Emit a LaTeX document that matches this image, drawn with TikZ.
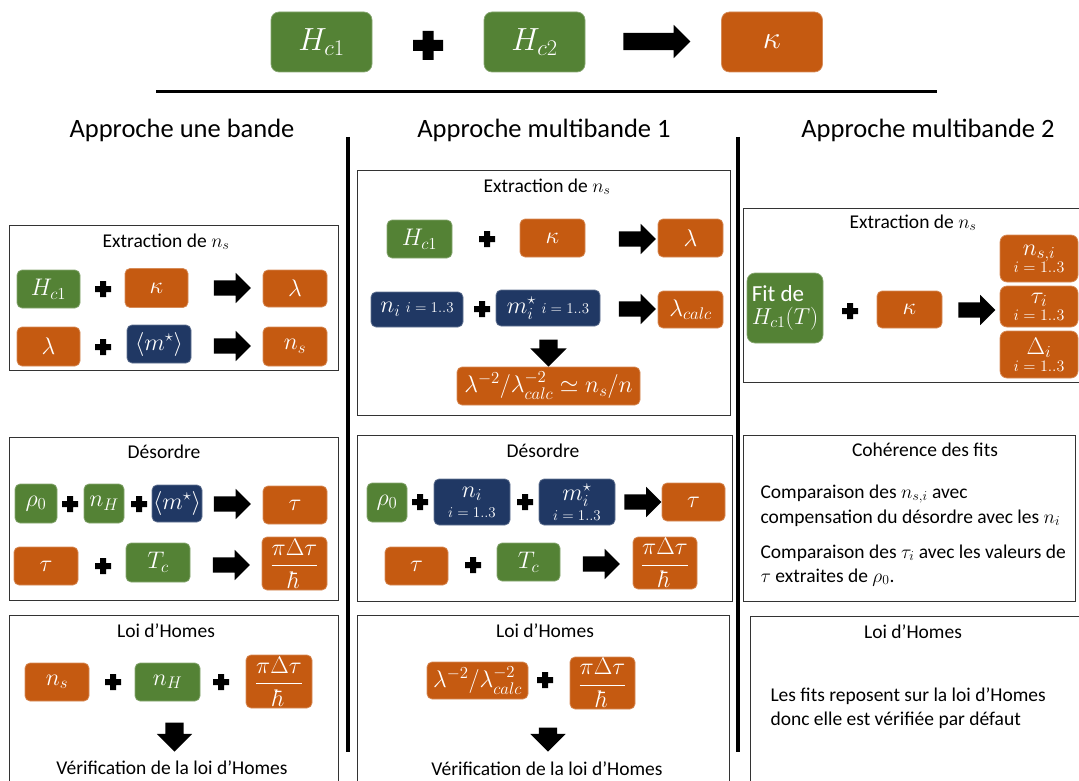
\RequirePackage{fix-cm}
\documentclass[tikz,border=0pt]{standalone}
\usepackage{amsmath}
\usepackage{fontspec}
\setmainfont{Carlito}
\usetikzlibrary{shapes.arrows}
\definecolor{hGreen}{HTML}{548235}
\definecolor{hOrange}{HTML}{C55A11}
\definecolor{hNavy}{HTML}{203864}
\tikzset{
  qbox/.style={rounded corners=5pt, fill=#1, draw=#1!70!white, line width=0.7pt,
    text=white, inner sep=0pt, align=center, font=\fontsize{24}{24}\selectfont},
  bigbox/.style={qbox=#1, rounded corners=8pt, minimum width=101, minimum height=60,
    font=\fontsize{32}{32}\selectfont},
  rarrow/.style={single arrow, fill=black, inner xsep=0pt, inner ysep=7.5pt,
    minimum height=37, single arrow head extend=7.5},
  darrow/.style={rarrow, rotate=-90, inner ysep=9pt, single arrow head extend=9},
  sect/.style={draw=black!80, line width=0.9pt},
  head/.style={anchor=base, font=\fontsize{26.5}{30}\selectfont},
  ttl/.style={anchor=base, font=\fontsize{19.5}{23}\selectfont},
  txt/.style={anchor=base west, font=\fontsize{19.5}{23}\selectfont},
}
\newcommand{\subidx}{{\fontsize{15}{15}\selectfont$i=1..3$}}
\newcommand{\pdt}{$\dfrac{\pi\Delta\tau}{\hbar}$}

\begin{document}
\begin{tikzpicture}[x=1pt, y=-1pt]
  \useasboundingbox (0,0) rectangle (1079,781);
  % top row
  \node[bigbox=hGreen] (hca) at (321.5,42) {$H_{c1}$};
  \node[bigbox=hGreen] (hcb) at (534.5,42) {$H_{c2}$};
  \node[rarrow, minimum height=67, inner ysep=8.5pt, single arrow head extend=8] (tarr) at (652.5,41.5) {};
  \node[bigbox=hOrange] (kap) at (772,42) {$\kappa$};
  \fill (413,40) rectangle (443,51) (422.5,31) rectangle (433.5,60);
  \draw[line width=3pt] (156,92) -- (937,92);

  % headings and separators
  \node[head] (h1) at (182,138) {Approche une bande};
  \node[head] (h2) at (544,138) {Approche multibande 1};
  \node[head] (h3) at (928,138) {Approche multibande 2};
  \draw[line width=3.5pt] (348,137) -- (348,752);
  \draw[line width=3.5pt] (738,137) -- (738,752);

  % small plus signs
  \foreach \x/\y in {103/289, 103/347, 70/504, 139/504, 103/566, 113/682, 221/682,
                     487/239, 482/309, 420/502, 525/502, 473/565, 545/680, 850/311} {
    \fill (\x-8,\y-3) rectangle (\x+8,\y+3) (\x-3,\y-8) rectangle (\x+3,\y+8);
  }

  % une bande: extraction de n_s
  \draw[sect] (9,225) rectangle (338,370);
  \node[ttl] (a1t) at (166,247) {Extraction de $n_s$};
  \foreach \nm/\lbl/\x/\y/\w/\h/\fc in {
      a1hc/{$H_{c1}$}/48.5/289/63/38/hGreen, a1k/{$\kappa$}/156.5/288/63/39/hOrange,
      a1l/{$\lambda$}/295/288.5/64/37/hOrange, a1la/{$\lambda$}/48.5/346.5/63/39/hOrange,
      a1m/{$\langle m^{\star}\rangle$}/159/344/64/38/hNavy, a1n/{$n_s$}/295/346.5/64/39/hOrange} {
    \node[qbox=\fc, minimum width=\w, minimum height=\h] (\nm) at (\x,\y) {\lbl};
  }
  \node[rarrow] (a1r1) at (228.5,288) {};
  \node[rarrow] (a1r2) at (228.5,346) {};

  % une bande: desordre
  \draw[sect] (9,437) rectangle (338,600);
  \node[ttl] (b1t) at (164,458) {Désordre};
  \foreach \nm/\lbl/\x/\y/\w/\h/\fc in {
      b1r/{$\rho_0$}/36/503.5/42/39/hGreen, b1nh/{$n_H$}/104/503.5/40/39/hGreen,
      b1m/{$\langle m^{\star}\rangle$}/177/503.5/50/37/hNavy, b1ta/{$\tau$}/295/505/64/38/hOrange,
      b1tb/{$\tau$}/46/566/64/38/hOrange, b1tc/{$T_c$}/158/562.5/64/39/hGreen,
      b1f/{\pdt}/294.5/563.5/65/53/hOrange} {
    \node[qbox=\fc, minimum width=\w, minimum height=\h] (\nm) at (\x,\y) {\lbl};
  }
  \node[rarrow] (b1r1) at (228.5,504) {};
  \node[rarrow] (b1r2) at (227.5,565) {};

  % une bande: loi d'Homes
  \draw[sect] (9,790) -- (9,615) -- (338,615) -- (338,790);
  \node[ttl] (c1t) at (166,637) {Loi d'Homes};
  \foreach \nm/\lbl/\x/\y/\w/\h/\fc in {
      c1n/{$n_s$}/57/682/64/38/hOrange, c1nh/{$n_H$}/167.5/682/65/38/hGreen,
      c1f/{\pdt}/279/681.5/66/53/hOrange} {
    \node[qbox=\fc, minimum width=\w, minimum height=\h] (\nm) at (\x,\y) {\lbl};
  }
  \node[darrow, minimum height=29, single arrow head extend=8.5] (c1d) at (174.5,732.5) {};
  \node[ttl] (c1v) at (172,774) {Vérification de la loi d'Homes};

  % multibande 1: extraction de n_s
  \draw[sect] (357,170) rectangle (730,415);
  \node[ttl] (a2t) at (547,192) {Extraction de $n_s$};
  \foreach \nm/\lbl/\x/\y/\w/\h/\fc in {
      a2hc/{$H_{c1}$}/419.5/239/65/38/hGreen, a2k/{$\kappa$}/552.5/238/65/38/hOrange,
      a2l/{$\lambda$}/690.5/238/65/38/hOrange, a2ni/{$n_i$\ \subidx}/417/309.5/92/35/hNavy,
      a2mi/{$m_i^{\star}$\ \subidx}/548/308/104/36/hNavy, a2lc/{$\lambda_{calc}$}/690.5/309.5/65/37/hOrange,
      a2res/{$\lambda^{-2}/\lambda_{calc}^{-2}\simeq n_s/n$}/548.5/386/183/38/hOrange} {
    \node[qbox=\fc, minimum width=\w, minimum height=\h] (\nm) at (\x,\y) {\lbl};
  }
  \node[rarrow] (a2r1) at (633.5,239) {};
  \node[rarrow] (a2r2) at (633.5,309) {};
  \node[darrow, minimum height=27] (a2d) at (548.5,348.5) {};

  % multibande 1: desordre
  \draw[sect] (357,435) rectangle (732,601);
  \node[ttl] (b2t) at (543,457) {Désordre};
  \foreach \nm/\lbl/\x/\y/\w/\h/\fc in {
      b2r/{$\rho_0$}/387/502.5/40/39/hGreen, b2ni/{$n_i$\\[-4pt]\subidx}/472/502/76/46/hNavy,
      b2mi/{$m_i^{\star}$\\[-4pt]\subidx}/577/502/76/46/hNavy, b2ta/{$\tau$}/693.5/502/63/38/hOrange,
      b2tb/{$\tau$}/416.5/566/63/38/hOrange, b2tc/{$T_c$}/528.5/562/63/38/hGreen,
      b2f/{\pdt}/665/563/64/52/hOrange} {
    \node[qbox=\fc, minimum width=\w, minimum height=\h] (\nm) at (\x,\y) {\lbl};
  }
  \node[rarrow] (b2r1) at (639,502) {};
  \node[rarrow] (b2r2) at (597.5,564) {};

  % multibande 1: loi d'Homes
  \draw[sect] (357,790) -- (357,615) -- (729,615) -- (729,790);
  \node[ttl] (c2t) at (545,637) {Loi d'Homes};
  \node[qbox=hOrange, minimum width=101, minimum height=37] (c2lr) at (477.5,680.5) {$\lambda^{-2}/\lambda_{calc}^{-2}$};
  \node[qbox=hOrange, minimum width=65, minimum height=52] (c2f) at (602.5,683) {\pdt};
  \node[darrow, minimum height=24, single arrow head extend=8.5] (c2d) at (548,735) {};
  \node[ttl] (c2v) at (547,775) {Vérification de la loi d'Homes};

  % multibande 2: extraction de n_s
  \draw[sect] (1090,208) -- (743,208) -- (743,382) -- (1090,382);
  \node[ttl] (a3t) at (913,228) {Extraction de $n_s$};
  \node[qbox=hGreen, minimum width=76, minimum height=70, rounded corners=8pt,
    font=\fontsize{23}{24}\selectfont] (a3fit) at (785,308)
    {\begin{tabular}{@{}l@{}}Fit de\\[-2pt] $H_{c1}(T)$\end{tabular}};
  \node[qbox=hOrange, minimum width=65, minimum height=37] (a3k) at (909.5,309.5) {$\kappa$};
  \node[rarrow] (a3r) at (973,310) {};
  \foreach \nm/\lbl/\y/\h in {a3n/{$n_{s,i}$}/258.5/47, a3ta/{$\tau_i$}/306.5/41, a3d/{$\Delta_i$}/354.5/47} {
    \node[qbox=hOrange, minimum width=78, minimum height=\h, rounded corners=7pt] (\nm) at (1039,\y)
      {\lbl\\[-7pt]{\fontsize{16}{16}\selectfont$i=1..3$}};
  }

  % multibande 2: coherence des fits
  \draw[sect] (743,435) rectangle (1075,601);
  \node[ttl] (b3t) at (925,456) {Cohérence des fits};
  \node[txt] (b3l1) at (757,498) {Comparaison des $n_{s,i}$ avec};
  \node[txt] (b3l2) at (757,523) {compensation du désordre avec les $n_i$};
  \node[txt] (b3l3) at (757,558) {Comparaison des $\tau_i$ avec les valeurs de};
  \node[txt] (b3l4) at (757,582) {$\tau$ extraites de $\rho_0$.};

  % multibande 2: loi d'Homes
  \draw[sect] (750,790) -- (750,616) -- (1090,616);
  \node[ttl] (c3t) at (913,638) {Loi d'Homes};
  \node[txt] (c3l1) at (767,701) {Les fits reposent sur la loi d'Homes};
  \node[txt] (c3l2) at (767,725) {donc elle est vérifiée par défaut};
\end{tikzpicture}
\end{document}
